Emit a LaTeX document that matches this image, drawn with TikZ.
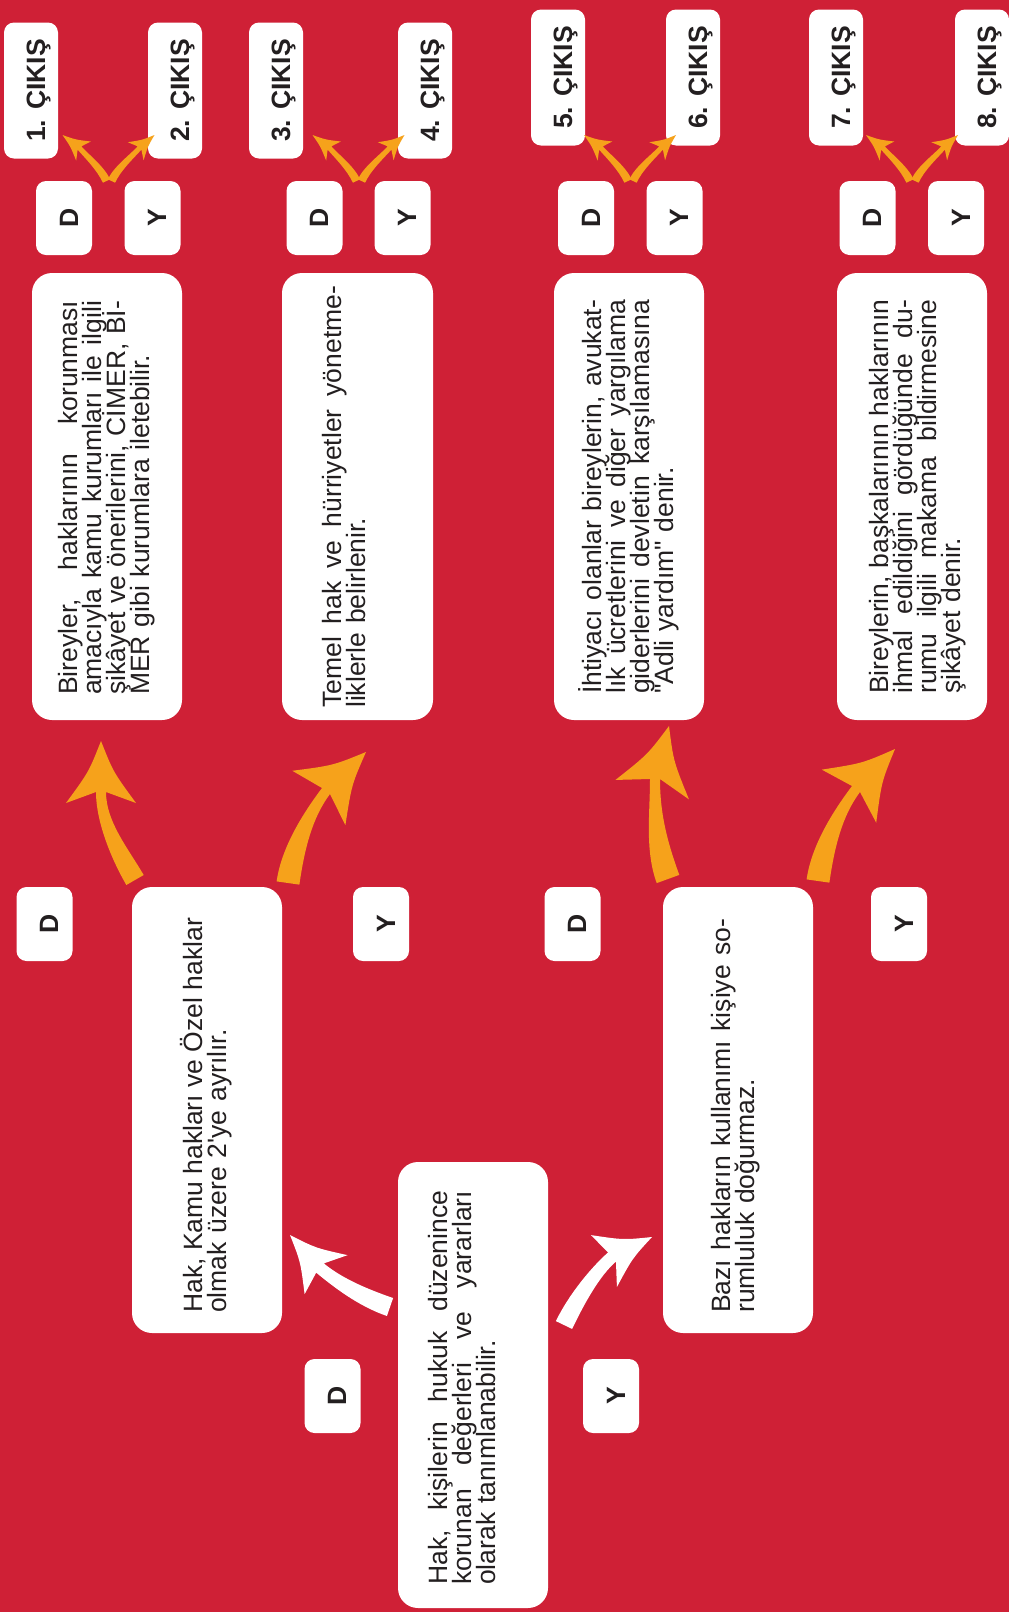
\documentclass[tikz,border=0pt]{standalone}
\usepackage{fontspec}
\newfontfamily\lib{Liberation Sans}
\usetikzlibrary{calc}
\definecolor{bg}{HTML}{CF2036}
\definecolor{org}{HTML}{F6A21B}
\definecolor{ink}{HTML}{231F20}
\newcommand\jline[2][394pt]{\leavevmode\hbox to #1{\frenchspacing\spaceskip=\fontdimen2\font plus 1fil\relax\xspaceskip=\spaceskip #2}}
\newcommand\bodyfont{\lib\fontsize{26.5pt}{24pt}\selectfont\lineskiplimit=-50pt\lineskip=0pt}
\newcommand\lblfont{\lib\bfseries\fontsize{26.5pt}{30pt}\selectfont}
% #1 prefix, #2 colour, #3 half base width, #4 half neck width, #5 half head width, #6 inset
\newcommand\fatarrow[6]{%
 \path ($(#1S)!#3!90:(#1C1)$) coordinate (#1L0)
       ($(#1S)!#3!-90:(#1C1)$) coordinate (#1R0)
       ($(#1N)!#4!-90:(#1C2)$) coordinate (#1L1)
       ($(#1N)!#4!90:(#1C2)$) coordinate (#1R1)
       ($(#1N)!-#6!(#1T)$) coordinate (#1Nb);
 \path ($(#1C1)+(#1L0)-(#1S)$) coordinate (#1CL1)
       ($(#1C1)+(#1R0)-(#1S)$) coordinate (#1CR1)
       ($(#1C2)+(#1L1)-(#1N)$) coordinate (#1CL2)
       ($(#1C2)+(#1R1)-(#1N)$) coordinate (#1CR2)
       ($(#1Nb)!#5!90:(#1T)$) coordinate (#1BL)
       ($(#1Nb)!#5!-90:(#1T)$) coordinate (#1BR)
       ($(#1Nb)!0.5!(#1T)$) coordinate (#1M);
 \path ($(#1BL)!0.5!(#1T)$) coordinate (#1HL)
       ($(#1BR)!0.5!(#1T)$) coordinate (#1HR);
 \path ($(#1HL)!0.3!(#1M)$) coordinate (#1QL)
       ($(#1HR)!0.3!(#1M)$) coordinate (#1QR);
 \fill[#2] (#1L0) .. controls (#1CL1) and (#1CL2) .. (#1L1) -- (#1BL)
   .. controls (#1QL) .. (#1T) .. controls (#1QR) .. (#1BR) -- (#1R1)
   .. controls (#1CR2) and (#1CR1) .. (#1R0) -- cycle;
}
\begin{document}
\begin{tikzpicture}[x=1pt,y=-1pt,
  bigbox/.style={fill=white, rounded corners=20pt, inner sep=0pt, minimum width=150pt, minimum height=447pt},
  smallbox/.style={fill=white, rounded corners=10pt, inner sep=0pt, minimum width=56pt, minimum height=74pt},
  exitbox/.style={fill=white, rounded corners=10pt, inner sep=0pt, minimum width=54pt, minimum height=136pt},
  txt/.style={rotate=90, anchor=north west, inner sep=0pt, text width=394pt, align=left, font=\bodyfont, text=ink},
  lbl/.style={rotate=90, anchor=base, inner sep=0pt, font=\lblfont, text=ink}]
\fill[bg] (0,0) rectangle (1009,1612);
\useasboundingbox (0,0) rectangle (1009,1612);
\clip (0,0) rectangle (1009,1612);

% exit boxes
\node[exitbox] (c1) at (31,90.5) {};
\node[exitbox] (c2) at (175,90.5) {};
\node[exitbox] (c3) at (276,90.5) {};
\node[exitbox] (c4) at (425,90.5) {};
\node[exitbox] (c5) at (558,77.5) {};
\node[exitbox] (c6) at (693,77.5) {};
\node[exitbox] (c7) at (836,77.5) {};
\node[exitbox] (c8) at (982,77.5) {};
\node[lbl] (c1t) at (45,90.5) {1. ÇIKIŞ};
\node[lbl] (c2t) at (189,90.5) {2. ÇIKIŞ};
\node[lbl] (c3t) at (290,90.5) {3. ÇIKIŞ};
\node[lbl] (c4t) at (439,90.5) {4. ÇIKIŞ};
\node[lbl] (c5t) at (572,77.5) {5. ÇIKIŞ};
\node[lbl] (c6t) at (707,77.5) {6. ÇIKIŞ};
\node[lbl] (c7t) at (850,77.5) {7. ÇIKIŞ};
\node[lbl] (c8t) at (996,77.5) {8. ÇIKIŞ};

% top D/Y boxes
\node[smallbox] (d1) at (64,218) {};
\node[smallbox] (y1) at (152.5,218) {};
\node[smallbox] (d2) at (314.5,218) {};
\node[smallbox] (y2) at (402.5,218) {};
\node[smallbox] (d3) at (586,218) {};
\node[smallbox] (y3) at (674.5,218) {};
\node[smallbox] (d4) at (867.5,218) {};
\node[smallbox] (y4) at (956,218) {};
\node[lbl] (d1t) at (78,218) {D};
\node[lbl] (y1t) at (166,218) {Y};
\node[lbl] (d2t) at (328,218) {D};
\node[lbl] (y2t) at (416,218) {Y};
\node[lbl] (d3t) at (600,218) {D};
\node[lbl] (y3t) at (688,218) {Y};
\node[lbl] (d4t) at (881,218) {D};
\node[lbl] (y4t) at (970,218) {Y};

% middle D/Y boxes
\node[smallbox] (md1) at (44.5,924) {};
\node[smallbox] (my1) at (381,924) {};
\node[smallbox] (md2) at (572.5,924) {};
\node[smallbox] (my2) at (899,924) {};
\node[lbl] (md1t) at (58,924) {D};
\node[lbl] (my1t) at (395,924) {Y};
\node[lbl] (md2t) at (586,924) {D};
\node[lbl] (my2t) at (913,924) {Y};

% bottom D/Y boxes
\node[smallbox] (bd) at (332.5,1396) {};
\node[smallbox] (by) at (611,1396) {};
\node[lbl] (bdt) at (346,1396) {D};
\node[lbl] (byt) at (625,1396) {Y};

% big boxes
\node[bigbox] (b1) at (107,496.5) {};
\node[bigbox, minimum width=151pt] (b2) at (357.5,496.5) {};
\node[bigbox] (b5) at (629,496.5) {};
\node[bigbox] (b6) at (912,496.5) {};
\node[bigbox, minimum height=446pt] (hk) at (207,1110) {};
\node[bigbox, minimum height=446pt] (bz) at (738,1110) {};
\node[bigbox, minimum height=446pt] (hb) at (473,1385) {};

% texts
\node[txt] (b1t) at (52,695) {\jline{\rule{0pt}{25pt}Bireyler, haklarının korunması}\\\jline{amacıyla kamu kurumları ile ilgili}\\\jline{şikâyet ve önerilerini, CİMER, Bİ-}\\MER gibi kurumlara iletebilir.};
\node[txt, text width=422pt] (b2t) at (316,708) {\jline[422pt]{\rule{0pt}{25pt}Temel hak ve hürriyetler yönetme-}\\liklerle belirlenir.};
\node[txt] (b5t) at (576,694) {\jline{\rule{0pt}{25pt}İhtiyacı olanlar bireylerin, avukat-}\\\jline{lık ücretlerini ve diğer yargılama}\\\jline{giderlerini devletin karşılamasına}\\"Adli yardım" denir.};
\node[txt] (b6t) at (863,694) {\jline{\rule{0pt}{25pt}Bireylerin, başkalarının haklarının}\\\jline{ihmal edildiğini gördüğünde du-}\\\jline{rumu ilgili makama bildirmesine}\\şikâyet denir.};
\node[txt] (hkt) at (177,1313) {\jline{\rule{0pt}{25pt}Hak, Kamu hakları ve Özel haklar}\\olmak üzere 2\textquotesingle ye ayrılır.};
\node[txt] (bzt) at (705,1313) {\jline{\rule{0pt}{25pt}Bazı hakların kullanımı kişiye so-}\\rumluluk doğurmaz.};
\node[txt] (hbt) at (422.5,1585) {\jline{\rule{0pt}{25pt}Hak, kişilerin hukuk düzenince}\\\jline{korunan değerleri ve yararları}\\olarak tanımlanabilir.};

% big orange arrows
\coordinate (aS) at (135,880); \coordinate (aC1) at (120,854); \coordinate (aC2) at (101,822); \coordinate (aN) at (101,792); \coordinate (aT) at (101,741);
\fatarrow{a}{org}{10pt}{5pt}{35pt}{11pt}
\coordinate (bS) at (288,883); \coordinate (bC1) at (293,848); \coordinate (bC2) at (308,815); \coordinate (bN) at (326,791); \coordinate (bT) at (366,752);
\fatarrow{b}{org}{11.5pt}{5pt}{38pt}{10pt}
\coordinate (cS) at (668,879); \coordinate (cC1) at (656,846); \coordinate (cC2) at (655,814); \coordinate (cN) at (655,779); \coordinate (cT) at (669,726);
\fatarrow{c}{org}{12pt}{5pt}{38pt}{11pt}
\coordinate (dS) at (818,881); \coordinate (dC1) at (823,846); \coordinate (dC2) at (838,813); \coordinate (dN) at (856,789); \coordinate (dT) at (895,749);
\fatarrow{d}{org}{11.5pt}{5pt}{38pt}{10pt}

% white arrows
\coordinate (eS) at (390,1307); \coordinate (eC1) at (361,1297); \coordinate (eC2) at (337,1282); \coordinate (eN) at (320,1268); \coordinate (eT) at (290,1235);
\fatarrow{e}{white}{9.5pt}{6pt}{29pt}{9pt}
\coordinate (fS) at (564,1325); \coordinate (fC1) at (577,1298); \coordinate (fC2) at (596,1271); \coordinate (fN) at (612,1257); \coordinate (fT) at (652,1237);
\fatarrow{f}{white}{9pt}{6pt}{29pt}{9pt}

% small orange arrows
\foreach \g/\p/\q in {108.5/pa/pb, 358.5/pc/pd, 630/pe/pf, 912/pg/ph}{
  \coordinate (\p S) at (\g-2,181);
  \coordinate (\p C1) at (\g-8,168);
  \coordinate (\p C2) at (\g-22,156);
  \coordinate (\p N) at (\g-29,148);
  \coordinate (\p T) at (\g-46,135);
  \fatarrow{\p}{org}{4pt}{2.5pt}{12pt}{5pt}
  \coordinate (\q S) at (\g+3,181);
  \coordinate (\q C1) at (\g+9,168);
  \coordinate (\q C2) at (\g+24,156);
  \coordinate (\q N) at (\g+31,148);
  \coordinate (\q T) at (\g+46,135);
  \fatarrow{\q}{org}{4pt}{2.5pt}{12pt}{5pt}
}
\end{tikzpicture}
\end{document}
